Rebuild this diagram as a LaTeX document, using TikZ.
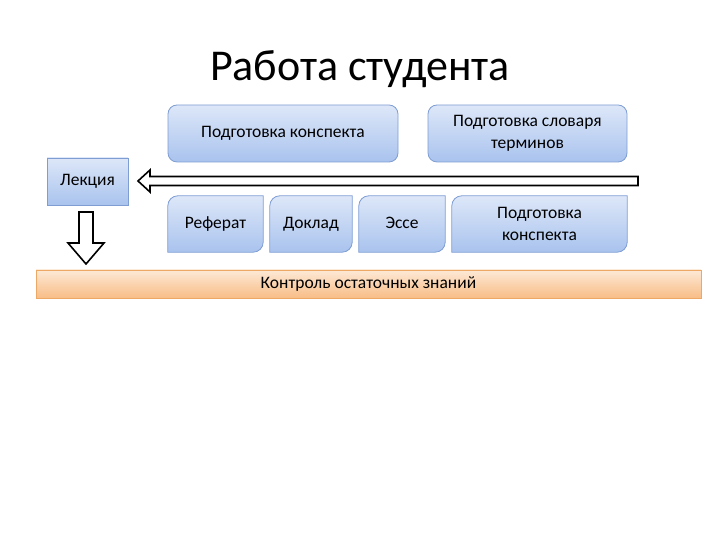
\documentclass[tikz,border=0pt]{standalone}
\usepackage{fontspec}
\setmainfont{Carlito}
\usetikzlibrary{backgrounds}
\definecolor{btop}{HTML}{DDE7F8}
\definecolor{bbot}{HTML}{A9C3EE}
\definecolor{bline}{HTML}{7E9DD3}
\definecolor{otop}{HTML}{FDE9D6}
\definecolor{obot}{HTML}{F8BD86}
\definecolor{oline}{HTML}{EDA865}
\tikzset{
  txt/.style={font=\fontsize{17.5}{22.5}\selectfont, text=black, align=center, inner sep=0pt},
  bluebox/.style={txt, rounded corners=9pt, top color=btop, bottom color=bbot, draw=bline, line width=0.8pt},
  diagfill/.style={top color=btop, bottom color=bbot, draw=bline, line width=0.8pt},
  plainbox/.style={txt, top color=btop, bottom color=bbot, draw=bline, line width=0.8pt},
  orangebar/.style={txt, top color=otop, bottom color=obot, draw=oline, line width=0.8pt},
  hollow/.style={draw=black, line width=1.6pt, fill=white, line join=miter},
}
\begin{document}
\begin{tikzpicture}[x=1pt,y=1pt]
\useasboundingbox (0,0) rectangle (720,540);
\node[font=\fontsize{44}{50}\selectfont] (title) at (360,471) {Работа студента};
\node[bluebox, minimum width=230pt, minimum height=57pt] (k1) at (283,406.5) {Подготовка конспекта};
\node[bluebox, minimum width=199pt, minimum height=57pt] (sl) at (527.5,406.5) {Подготовка словаря\\терминов};
\node[plainbox, minimum width=81pt, minimum height=47pt] (lek) at (87.5,358.5) {Лекция};
% bottom row
\node[txt, minimum width=95pt, minimum height=56pt] (ref) at (215.5,316) {Реферат\vphantom{Др}};
\node[txt, minimum width=82pt, minimum height=56pt] (dok) at (311,316) {Доклад\vphantom{Др}};
\node[txt, minimum width=86pt, minimum height=56pt] (esse) at (402,316) {Эссе\vphantom{Др}};
\node[txt, minimum width=175pt, minimum height=56pt] (k2) at (539.5,316) {Подготовка\\конспекта};
\begin{scope}[on background layer]
\foreach \n in {ref,dok,esse,k2}{
  \path[diagfill] ([yshift=-10pt]\n.north west) arc[start angle=180,end angle=90,radius=10pt]
    -- (\n.north east) -- ([yshift=10pt]\n.south east) arc[start angle=0,end angle=-90,radius=10pt]
    -- (\n.south west) -- cycle;
}
\end{scope}
\node[orangebar, minimum width=665pt, minimum height=28pt] (ctrl) at (368.5,256) {Контроль остаточных знаний};
% left block arrow
\coordinate (lt) at (138,359);
\draw[hollow] (lt) -- (150,370) -- (150,363.5) -- (638,363.5) -- (638,354.5) -- (150,354.5) -- (150,348) -- cycle;
% down block arrow
\coordinate (dt) at (86,276);
\draw[hollow] (dt) -- (104,297) -- (93,297) -- (93,328) -- (79,328) -- (79,297) -- (68,297) -- cycle;
\end{tikzpicture}
\end{document}
